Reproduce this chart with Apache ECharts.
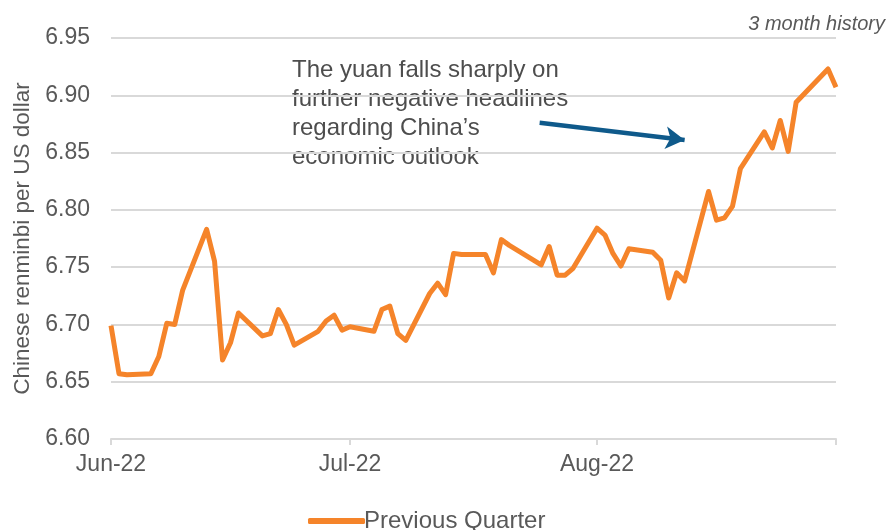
<!DOCTYPE html>
<html>
<head>
<meta charset="utf-8">
<script src="https://cdn.jsdelivr.net/npm/echarts@6/dist/echarts.min.js"></script>
<style>
html,body{margin:0;padding:0;background:#fff;}
#chart{width:892px;height:530px;}
</style>
</head>
<body>
<div id="chart"></div>
<script>
// ---- data ----
var dates = [
  '2022-06-01','2022-06-02','2022-06-03','2022-06-06','2022-06-07','2022-06-08','2022-06-09','2022-06-10',
  '2022-06-13','2022-06-14','2022-06-15','2022-06-16','2022-06-17','2022-06-20','2022-06-21','2022-06-22',
  '2022-06-23','2022-06-24','2022-06-27','2022-06-28','2022-06-29','2022-06-30','2022-07-01','2022-07-04',
  '2022-07-05','2022-07-06','2022-07-07','2022-07-08','2022-07-11','2022-07-12','2022-07-13','2022-07-14',
  '2022-07-15','2022-07-18','2022-07-19','2022-07-20','2022-07-21','2022-07-25','2022-07-26','2022-07-27',
  '2022-07-28','2022-07-29','2022-08-01','2022-08-02','2022-08-03','2022-08-04','2022-08-05','2022-08-08',
  '2022-08-09','2022-08-10','2022-08-11','2022-08-12','2022-08-15','2022-08-16','2022-08-17','2022-08-18',
  '2022-08-19','2022-08-22','2022-08-23','2022-08-24','2022-08-25','2022-08-26','2022-08-30','2022-08-31'
];
var values = [
  6.699,6.657,6.656,6.657,6.672,6.701,6.700,6.730,
  6.783,6.755,6.669,6.684,6.710,6.690,6.692,6.713,
  6.700,6.682,6.694,6.703,6.708,6.695,6.698,6.694,
  6.713,6.716,6.692,6.686,6.727,6.736,6.726,6.762,
  6.761,6.761,6.745,6.774,6.769,6.752,6.768,6.743,
  6.743,6.749,6.784,6.778,6.762,6.751,6.766,6.763,
  6.756,6.723,6.745,6.738,6.816,6.791,6.793,6.803,
  6.836,6.868,6.854,6.878,6.851,6.894,6.923,6.907
];
var tickDates = ['2022-06-01','2022-07-01','2022-08-01','2022-08-31'];
var tickLabels = ['Jun-22','Jul-22','Aug-22',''];
var seriesName = 'Previous Quarter';
var yTitle = 'Chinese renminbi per US dollar';
var noteLines = ['The yuan falls sharply on','further negative headlines','regarding China\u2019s','economic outlook'];
var arrowFrom = ['2022-07-25', 6.876];
var arrowTo = ['2022-08-12', 6.861];
var cornerNote = '3 month history';

// ---- build ----
var origin = Date.UTC(2022,5,1);
function dayIdx(s){var p=s.split('-');return (Date.UTC(+p[0],+p[1]-1,+p[2])-origin)/86400000;}
var pts = dates.map(function(d,i){return [dayIdx(d), values[i]];});
var tickIdx = tickDates.map(dayIdx);
var labelMap = {}; tickIdx.forEach(function(t,i){labelMap[t]=tickLabels[i];});

var FONT = '"Liberation Sans", Arial, sans-serif';
var chart = echarts.init(document.getElementById('chart'));
chart.setOption({
  animation:false,
  textStyle:{fontFamily:FONT},
  grid:{left:111,right:56,top:38,bottom:91,containLabel:false},
  legend:{
    data:[seriesName], left:303, top:504, itemWidth:57, itemHeight:6, icon:'roundRect',
    textStyle:{fontSize:24,color:'#595959',fontFamily:FONT,padding:[0,0,0,-6]}
  },
  xAxis:{
    type:'value', min:tickIdx[0], max:tickIdx[tickIdx.length-1],
    splitLine:{show:false},
    axisLine:{show:true,lineStyle:{color:'#d9d9d9',width:2}},
    axisTick:{show:true,customValues:tickIdx,length:6,lineStyle:{color:'#d9d9d9',width:2}},
    axisLabel:{customValues:tickIdx.slice(0,3),formatter:function(v){return labelMap[v]||'';},
      fontSize:23,color:'#595959',margin:14,fontFamily:FONT}
  },
  yAxis:{
    type:'value', min:6.60, max:6.95, interval:0.05,
    name:yTitle, nameLocation:'middle', nameGap:77, nameRotate:90,
    nameTextStyle:{fontSize:22.5,color:'#595959',fontFamily:FONT},
    axisLine:{show:false}, axisTick:{show:false},
    splitLine:{lineStyle:{color:'#d9d9d9',width:2}},
    axisLabel:{formatter:function(v){return v.toFixed(2);},fontSize:23,color:'#595959',margin:21,fontFamily:FONT}
  },
  series:[{
    name:seriesName, type:'line', data:pts, showSymbol:false, symbol:'none',
    lineStyle:{color:'#f5842a',width:5,join:'round'}, itemStyle:{color:'#f5842a'},
    markLine:{
      silent:true, symbol:['none','arrow'], symbolSize:[17,19],
      label:{show:false},
      lineStyle:{color:'#0f5a8b',width:4.5,type:'solid'},
      data:[[{coord:[dayIdx(arrowFrom[0])-0.2,arrowFrom[1]]},{coord:[dayIdx(arrowTo[0]),arrowTo[1]]}]]
    }
  }],
  graphic:[
    {type:'text',left:292,top:56,style:{text:noteLines.join('\n'),font:'24px '+FONT,fill:'#4d4d4d',lineHeight:29}},
    {type:'text',right:7,top:14,style:{text:cornerNote,font:'italic 20px '+FONT,fill:'#595959'}}
  ]
});
</script>
</body>
</html>
